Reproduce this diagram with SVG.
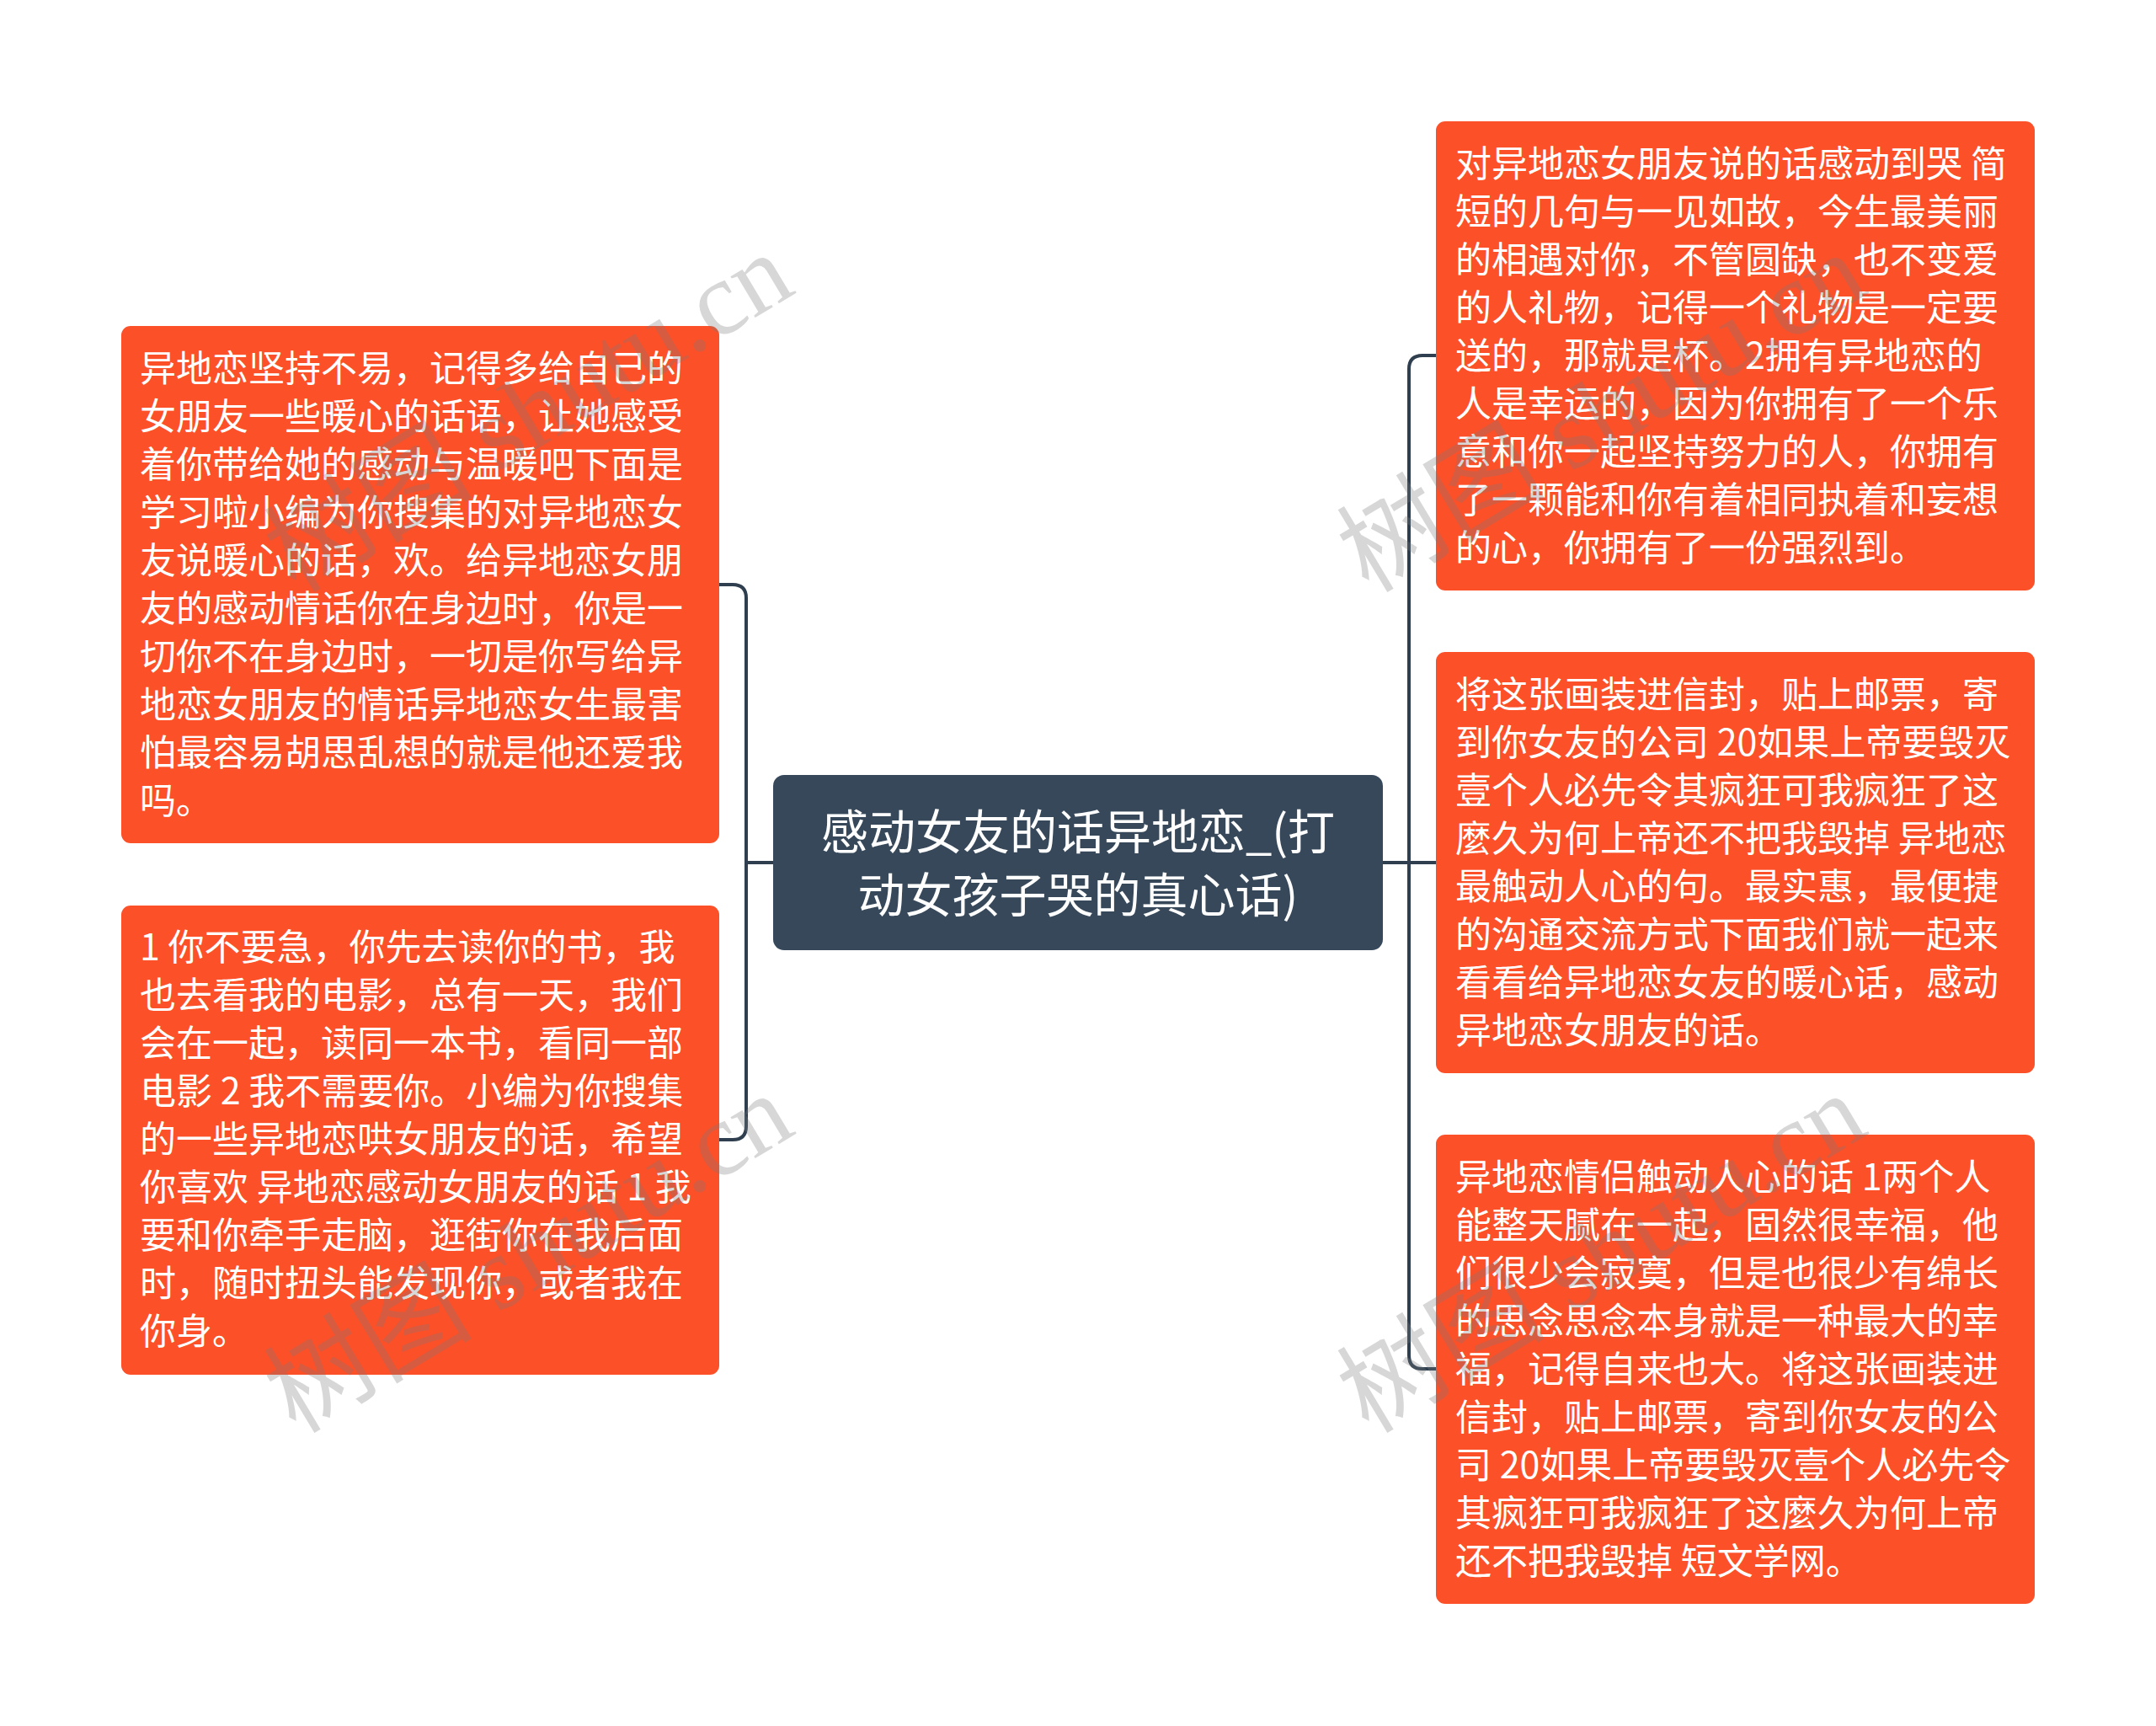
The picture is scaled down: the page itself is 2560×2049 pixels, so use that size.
<svg xmlns="http://www.w3.org/2000/svg" width="2560" height="2049" viewBox="0 0 2560 2049">
<style>
.topic{fill:#FC5029;}
.root{fill:#36485A;}
.t{font-family:"Noto Sans CJK SC","Liberation Sans",sans-serif;font-size:43px;fill:#FFFFFF;}
.rt{font-family:"Noto Sans CJK SC","Liberation Sans",sans-serif;font-size:56px;fill:#FFFFFF;text-anchor:middle;}
.conn{fill:none;stroke:#2F3F4F;stroke-width:4;}
.wm{font-family:"Liberation Serif","Noto Sans CJK SC",serif;font-size:124px;fill:#7A7A7A;fill-opacity:0.3;}
</style>
<rect x="0" y="0" width="2560" height="2049" fill="#FFFFFF"/>
<g id="connectors">
<path class="conn" d="M854,694 H870 Q886,694 886,710 V1337 Q886,1353 870,1353 H854"/>
<path class="conn" d="M886,1024 H918"/>
<path class="conn" d="M1705,422 H1689 Q1673,422 1673,438 V1609 Q1673,1625 1689,1625 H1705"/>
<path class="conn" d="M1642,1024 H1705"/>
</g>
<g id="root">
<rect class="root" x="918" y="920" width="724" height="208" rx="13"/>
<text class="rt" x="1280" y="1008">感动女友的话异地恋_(打</text>
<text class="rt" x="1280" y="1083">动女孩子哭的真心话)</text>
</g>
<g id="left1">
<rect class="topic" x="144" y="387" width="710" height="614" rx="11"/>
<text class="t" x="166" transform="translate(0,3)">
<tspan x="166" y="450">异地恋坚持不易，记得多给自己的</tspan>
<tspan x="166" y="507">女朋友一些暖心的话语，让她感受</tspan>
<tspan x="166" y="564">着你带给她的感动与温暖吧下面是</tspan>
<tspan x="166" y="621">学习啦小编为你搜集的对异地恋女</tspan>
<tspan x="166" y="678">友说暖心的话，欢。给异地恋女朋</tspan>
<tspan x="166" y="735">友的感动情话你在身边时，你是一</tspan>
<tspan x="166" y="792">切你不在身边时，一切是你写给异</tspan>
<tspan x="166" y="849">地恋女朋友的情话异地恋女生最害</tspan>
<tspan x="166" y="906">怕最容易胡思乱想的就是他还爱我</tspan>
<tspan x="166" y="963">吗。</tspan>
</text>
</g>
<g id="left2">
<rect class="topic" x="144" y="1075" width="710" height="557" rx="11"/>
<text class="t" x="166" transform="translate(0,3)">
<tspan x="166" y="1137">1 你不要急，你先去读你的书，我</tspan>
<tspan x="166" y="1194">也去看我的电影，总有一天，我们</tspan>
<tspan x="166" y="1251">会在一起，读同一本书，看同一部</tspan>
<tspan x="166" y="1308">电影 2 我不需要你。小编为你搜集</tspan>
<tspan x="166" y="1365">的一些异地恋哄女朋友的话，希望</tspan>
<tspan x="166" y="1422">你喜欢 异地恋感动女朋友的话 1 我</tspan>
<tspan x="166" y="1479">要和你牵手走脑，逛街你在我后面</tspan>
<tspan x="166" y="1536">时，随时扭头能发现你，或者我在</tspan>
<tspan x="166" y="1593">你身。</tspan>
</text>
</g>
<g id="right1">
<rect class="topic" x="1705" y="144" width="711" height="557" rx="11"/>
<text class="t" x="1728" transform="translate(0,3)">
<tspan x="1728" y="207">对异地恋女朋友说的话感动到哭 简</tspan>
<tspan x="1728" y="264">短的几句与一见如故，今生最美丽</tspan>
<tspan x="1728" y="321">的相遇对你，不管圆缺，也不变爱</tspan>
<tspan x="1728" y="378">的人礼物，记得一个礼物是一定要</tspan>
<tspan x="1728" y="435">送的，那就是杯。2拥有异地恋的</tspan>
<tspan x="1728" y="492">人是幸运的，因为你拥有了一个乐</tspan>
<tspan x="1728" y="549">意和你一起坚持努力的人，你拥有</tspan>
<tspan x="1728" y="606">了一颗能和你有着相同执着和妄想</tspan>
<tspan x="1728" y="663">的心，你拥有了一份强烈到。</tspan>
</text>
</g>
<g id="right2">
<rect class="topic" x="1705" y="774" width="711" height="500" rx="11"/>
<text class="t" x="1728" transform="translate(0,3)">
<tspan x="1728" y="837">将这张画装进信封，贴上邮票，寄</tspan>
<tspan x="1728" y="894">到你女友的公司 20如果上帝要毁灭</tspan>
<tspan x="1728" y="951">壹个人必先令其疯狂可我疯狂了这</tspan>
<tspan x="1728" y="1008">麼久为何上帝还不把我毁掉 异地恋</tspan>
<tspan x="1728" y="1065">最触动人心的句。最实惠，最便捷</tspan>
<tspan x="1728" y="1122">的沟通交流方式下面我们就一起来</tspan>
<tspan x="1728" y="1179">看看给异地恋女友的暖心话，感动</tspan>
<tspan x="1728" y="1236">异地恋女朋友的话。</tspan>
</text>
</g>
<g id="right3">
<rect class="topic" x="1705" y="1347" width="711" height="557" rx="11"/>
<text class="t" x="1728" transform="translate(0,3)">
<tspan x="1728" y="1410">异地恋情侣触动人心的话 1两个人</tspan>
<tspan x="1728" y="1467">能整天腻在一起，固然很幸福，他</tspan>
<tspan x="1728" y="1524">们很少会寂寞，但是也很少有绵长</tspan>
<tspan x="1728" y="1581">的思念思念本身就是一种最大的幸</tspan>
<tspan x="1728" y="1638">福，记得自来也大。将这张画装进</tspan>
<tspan x="1728" y="1695">信封，贴上邮票，寄到你女友的公</tspan>
<tspan x="1728" y="1752">司 20如果上帝要毁灭壹个人必先令</tspan>
<tspan x="1728" y="1809">其疯狂可我疯狂了这麼久为何上帝</tspan>
<tspan x="1728" y="1866">还不把我毁掉 短文学网。</tspan>
</text>
</g>
<g id="watermarks">
<text class="wm" transform="translate(351,705) rotate(-31)">树图 shutu.cn</text>
<text class="wm" transform="translate(1625,705) rotate(-31)">树图 shutu.cn</text>
<text class="wm" transform="translate(351,1703) rotate(-31)">树图 shutu.cn</text>
<text class="wm" transform="translate(1625,1703) rotate(-31)">树图 shutu.cn</text>
</g>
</svg>
